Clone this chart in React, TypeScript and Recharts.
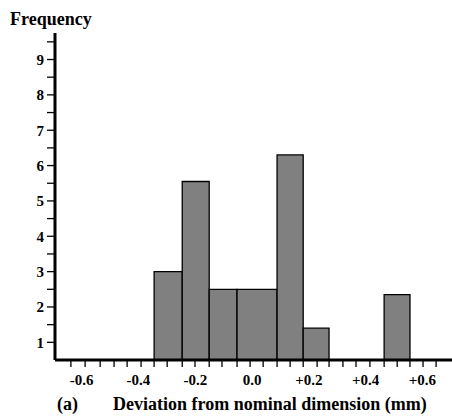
import React from 'react';
import {
  ComposedChart,
  Line,
  XAxis,
  YAxis,
  ReferenceArea,
} from 'recharts';

// histogram bins (mm) and their counts
const binStart = [-0.345, -0.246, -0.151, -0.053, 0.088, 0.18, 0.465];
const binEnd = [-0.246, -0.151, -0.053, 0.088, 0.18, 0.271, 0.556];
const frequency = [3.0, 5.55, 2.5, 2.5, 6.3, 1.4, 2.35];

const xLabelTicks = [-0.6, -0.4, -0.2, 0, 0.2, 0.4, 0.6];
const xMinorTicks = [
  -0.638, -0.588, -0.535, -0.486, -0.44, -0.391, -0.345, -0.299, -0.246, -0.201,
  -0.151, -0.106, -0.053, -0.007, 0.039, 0.088, 0.134, 0.18, 0.229, 0.271,
  0.32, 0.366, 0.415, 0.465, 0.511, 0.556, 0.602, 0.648,
];
const yTicks = [1, 1.5, 2, 2.5, 3, 3.5, 4, 4.5, 5, 5.5, 6, 6.5, 7, 7.5, 8, 8.5, 9, 9.5];

const serif = '"Liberation Serif", "Times New Roman", serif';

const fmtX = (v: number) => {
  if (Math.abs(v) < 1e-9) return '0.0';
  return (v > 0 ? '+' : '') + v.toFixed(1);
};

const NoLabel = () => <g />;

export default function App() {
  const data = binStart.map((s, i) => ({
    mid: (s + binEnd[i]) / 2,
    frequency: frequency[i],
  }));

  return (
    <div style={{ position: 'absolute', left: 0, top: 0, width: 452, height: 417, background: '#fff' }}>
      <ComposedChart
        width={452}
        height={417}
        data={data}
        margin={{ top: 33, right: 0, left: 8, bottom: 19 }}
      >
        <YAxis
          type="number"
          domain={[0.5, 9.75]}
          allowDataOverflow
          ticks={yTicks}
          interval={0}
          width={47}
          tickSize={8}
          tickMargin={3}
          axisLine={{ stroke: '#000', strokeWidth: 3 }}
          tickLine={{ stroke: '#000', strokeWidth: 1.3 }}
          tick={{ fill: '#000', fontSize: 15, fontWeight: 'bold', fontFamily: serif }}
          tickFormatter={(v: number) => (Number.isInteger(v) ? String(v) : '')}
        />
        <XAxis
          xAxisId="a-minor"
          dataKey="mid"
          type="number"
          domain={[-0.694, 0.704]}
          allowDataOverflow
          ticks={xMinorTicks}
          interval={0}
          height={8}
          tickSize={7}
          axisLine={{ stroke: '#000', strokeWidth: 3 }}
          tickLine={{ stroke: '#000', strokeWidth: 1.3 }}
          tick={<NoLabel />}
        />
        <XAxis
          xAxisId="b-labels"
          dataKey="mid"
          type="number"
          domain={[-0.694, 0.704]}
          allowDataOverflow
          ticks={xLabelTicks}
          interval={0}
          height={30}
          tickSize={0}
          tickMargin={6}
          axisLine={false}
          tickLine={false}
          tick={{ fill: '#000', fontSize: 15, fontWeight: 'bold', fontFamily: serif }}
          tickFormatter={fmtX}
        />
        {binStart.map((s, i) => (
          <ReferenceArea
            key={i}
            xAxisId="a-minor"
            x1={s}
            x2={binEnd[i]}
            y1={0.5}
            y2={frequency[i]}
            fill="#808080"
            fillOpacity={1}
            stroke="#000"
            strokeWidth={1.3}
            ifOverflow="visible"
          />
        ))}
        <Line
          xAxisId="a-minor"
          dataKey="frequency"
          stroke="none"
          dot={false}
          activeDot={false}
          isAnimationActive={false}
        />
      </ComposedChart>
      <svg
        width={452}
        height={417}
        style={{ position: 'absolute', left: 0, top: 0, pointerEvents: 'none' }}
      >
        <text x={10} y={25} fontFamily={serif} fontWeight="bold" fontSize={18} fill="#000">
          Frequency
        </text>
        <text x={57} y={410} fontFamily={serif} fontWeight="bold" fontSize={18} fill="#000">
          (a)
        </text>
        <text x={113} y={410} fontFamily={serif} fontWeight="bold" fontSize={18} fill="#000">
          Deviation from nominal dimension (mm)
        </text>
      </svg>
    </div>
  );
}
